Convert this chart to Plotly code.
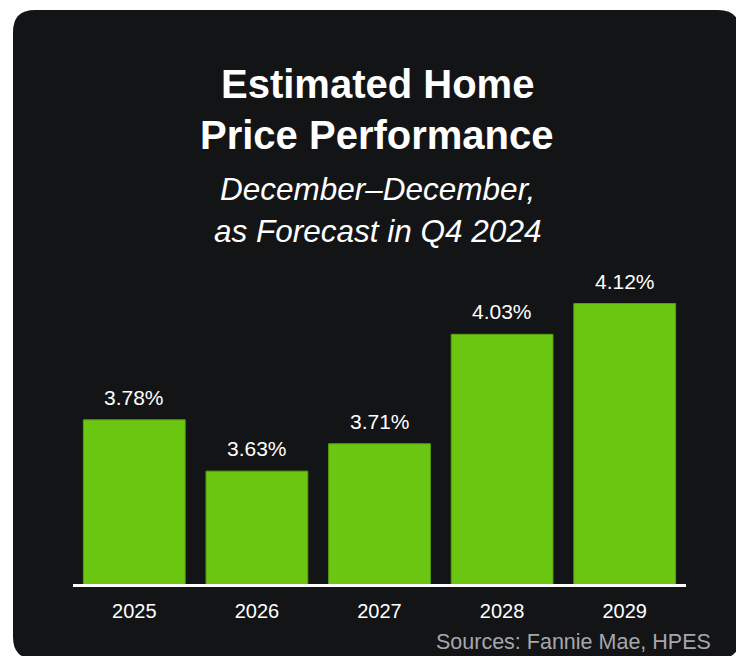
import plotly.graph_objects as go

years = ["2025", "2026", "2027", "2028", "2029"]
values = [3.78, 3.63, 3.71, 4.03, 4.12]
labels = ["3.78%", "3.63%", "3.71%", "4.03%", "4.12%"]

title_lines = ["Estimated Home", "Price Performance"]
subtitle_lines = ["December–December,", "as Forecast in Q4 2024"]
source_text = "Sources: Fannie Mae, HPES"

W, H = 744, 656
OFF = 8  # page body margin offset
L, T = 73 - OFF, 260 - OFF
R, B = W - (686 - OFF), H - (584 - OFF)
PW, PH = W - L - R, H - T - B
FONT = "Liberation Sans, Arial, sans-serif"
CARD = "#131416"
GREEN = "#6BC612"


def px_x(px):
    return (px - OFF - L) / PW


def px_y(py):
    return (H - B - (py - OFF)) / PH


# rounded card path (reference pixel coords)
x0, x1, y0, y1, r = 13, 740, 10, 659, 22
pts = [
    ("M", (x0 + r, y0)), ("L", (x1 - r, y0)), ("Q", (x1, y0), (x1, y0 + r)),
    ("L", (x1, y1 - r)), ("Q", (x1, y1), (x1 - r, y1)), ("L", (x0 + r, y1)),
    ("Q", (x0, y1), (x0, y1 - r)), ("L", (x0, y0 + r)), ("Q", (x0, y0), (x0 + r, y0)),
]
path = ""
for item in pts:
    cmd = item[0]
    coords = " ".join(f"{px_x(p[0]):.5f},{px_y(p[1]):.5f}" for p in item[1:])
    path += f"{cmd} {coords} "
path += "Z"

fig = go.Figure(
    go.Bar(
        x=years,
        y=values,
        marker=dict(color=GREEN, line=dict(color="#58A00F", width=1)),
        hoverinfo="skip",
    )
)

annotations = []
for i, (yv, t) in enumerate(zip(values, labels)):
    annotations.append(dict(
        x=i, y=yv, xref="x", yref="y", text=t, showarrow=False,
        yanchor="bottom", yshift=9, font=dict(family=FONT, size=21, color="white"),
    ))

cx = px_x(377)
for t, cy in zip(title_lines, [84, 135]):
    annotations.append(dict(
        x=cx, y=px_y(cy), xref="paper", yref="paper", text=f"<b>{t}</b>",
        showarrow=False, xanchor="center", yanchor="middle",
        font=dict(family=FONT, size=40, color="white"),
    ))
for t, cy in zip(subtitle_lines, [189, 231]):
    annotations.append(dict(
        x=cx, y=px_y(cy), xref="paper", yref="paper", text=f"<i>{t}</i>",
        showarrow=False, xanchor="center", yanchor="middle",
        font=dict(family=FONT, size=31.5, color="white"),
    ))
annotations.append(dict(
    x=px_x(713), y=px_y(642), xref="paper", yref="paper", text=source_text,
    showarrow=False, xanchor="right", yanchor="middle",
    font=dict(family=FONT, size=21.5, color="#A6A7AD"),
))

fig.update_layout(
    width=W, height=H,
    margin=dict(l=L, r=R, t=T, b=B, pad=0),
    paper_bgcolor="white",
    plot_bgcolor=CARD,
    bargap=0.17,
    showlegend=False,
    shapes=[dict(type="path", path=path, xref="paper", yref="paper",
                 fillcolor=CARD, line=dict(width=0), layer="below")],
    annotations=annotations,
    xaxis=dict(
        type="category", range=[-0.5, len(years) - 0.5],
        showline=True, linecolor="white", linewidth=3, showgrid=False,
        zeroline=False, ticks="", ticklabelstandoff=7,
        tickfont=dict(family=FONT, size=20, color="white"),
    ),
    yaxis=dict(range=[3.30, 3.30 + PH / 342], visible=False, showgrid=False, zeroline=False),
)

fig.write_html("out.html")
